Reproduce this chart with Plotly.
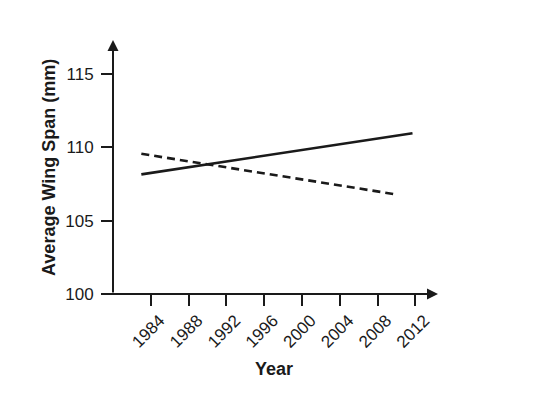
import plotly.graph_objects as go

# Data
solid_years = [1983.0, 2011.7]
solid_span = [108.15, 110.95]
dashed_years = [1983.0, 2009.8]
dashed_span = [109.55, 106.8]

x_ticks = [1984, 1988, 1992, 1996, 2000, 2004, 2008, 2012]
x_tick_labels = [str(v) for v in x_ticks]
y_ticks = [100, 105, 110, 115]
y_tick_labels = [str(v) for v in y_ticks]

x_range = [1980, 2014.4]
y_range = [100, 117.3]

FONT = "Liberation Sans, Arial, sans-serif"
INK = "#1a1a1a"

fig = go.Figure()
fig.add_trace(go.Scatter(x=solid_years, y=solid_span, mode="lines",
                         line=dict(color=INK, width=2.6), showlegend=False))
fig.add_trace(go.Scatter(x=dashed_years, y=dashed_span, mode="lines",
                         line=dict(color=INK, width=2.6, dash="8px,5px"), showlegend=False))

fig.update_layout(
    width=544, height=399,
    margin=dict(l=113, r=106, t=40, b=105),
    paper_bgcolor="white", plot_bgcolor="white",
    font=dict(family=FONT, color=INK),
    xaxis=dict(range=x_range, showgrid=False, zeroline=False, showline=False,
               automargin=False, ticklabelshift=9, ticklabelstandoff=-2,
               tickmode="array", tickvals=x_ticks, ticktext=x_tick_labels,
               ticks="outside", ticklen=11, tickwidth=1.6, tickcolor=INK,
               tickangle=-45, tickfont=dict(size=17, color=INK)),
    yaxis=dict(range=y_range, showgrid=False, zeroline=False, showline=False,
               automargin=False, ticklabelstandoff=4,
               tickmode="array", tickvals=y_ticks, ticktext=y_tick_labels,
               ticks="outside", ticklen=11, tickwidth=1.6, tickcolor=INK,
               tickfont=dict(size=17, color=INK)),
)

# Axis lines with arrow heads
fig.add_annotation(x=x_range[0], y=y_range[1], ax=x_range[0], ay=y_range[0],
                   xref="x", yref="y", axref="x", ayref="y", text="",
                   showarrow=True, arrowhead=2, arrowsize=1.1, arrowwidth=2, arrowcolor=INK)
fig.add_annotation(x=x_range[1], y=y_range[0], ax=1978.9, ay=y_range[0],
                   xref="x", yref="y", axref="x", ayref="y", text="",
                   showarrow=True, arrowhead=2, arrowsize=1.1, arrowwidth=2, arrowcolor=INK)

# Axis titles
fig.add_annotation(text="<b>Year</b>", xref="paper", yref="paper", x=0.495, y=-0.295,
                   yanchor="middle", showarrow=False, font=dict(size=18, color=INK))
fig.add_annotation(text="<b>Average Wing Span (mm)</b>", xref="paper", yref="paper",
                   x=-0.197, y=0.5, xanchor="center", yanchor="middle", textangle=-90,
                   showarrow=False, font=dict(size=18, color=INK))

fig.write_html("out.html", config={"displayModeBar": False},
               post_script="document.body.style.margin='0px';")
